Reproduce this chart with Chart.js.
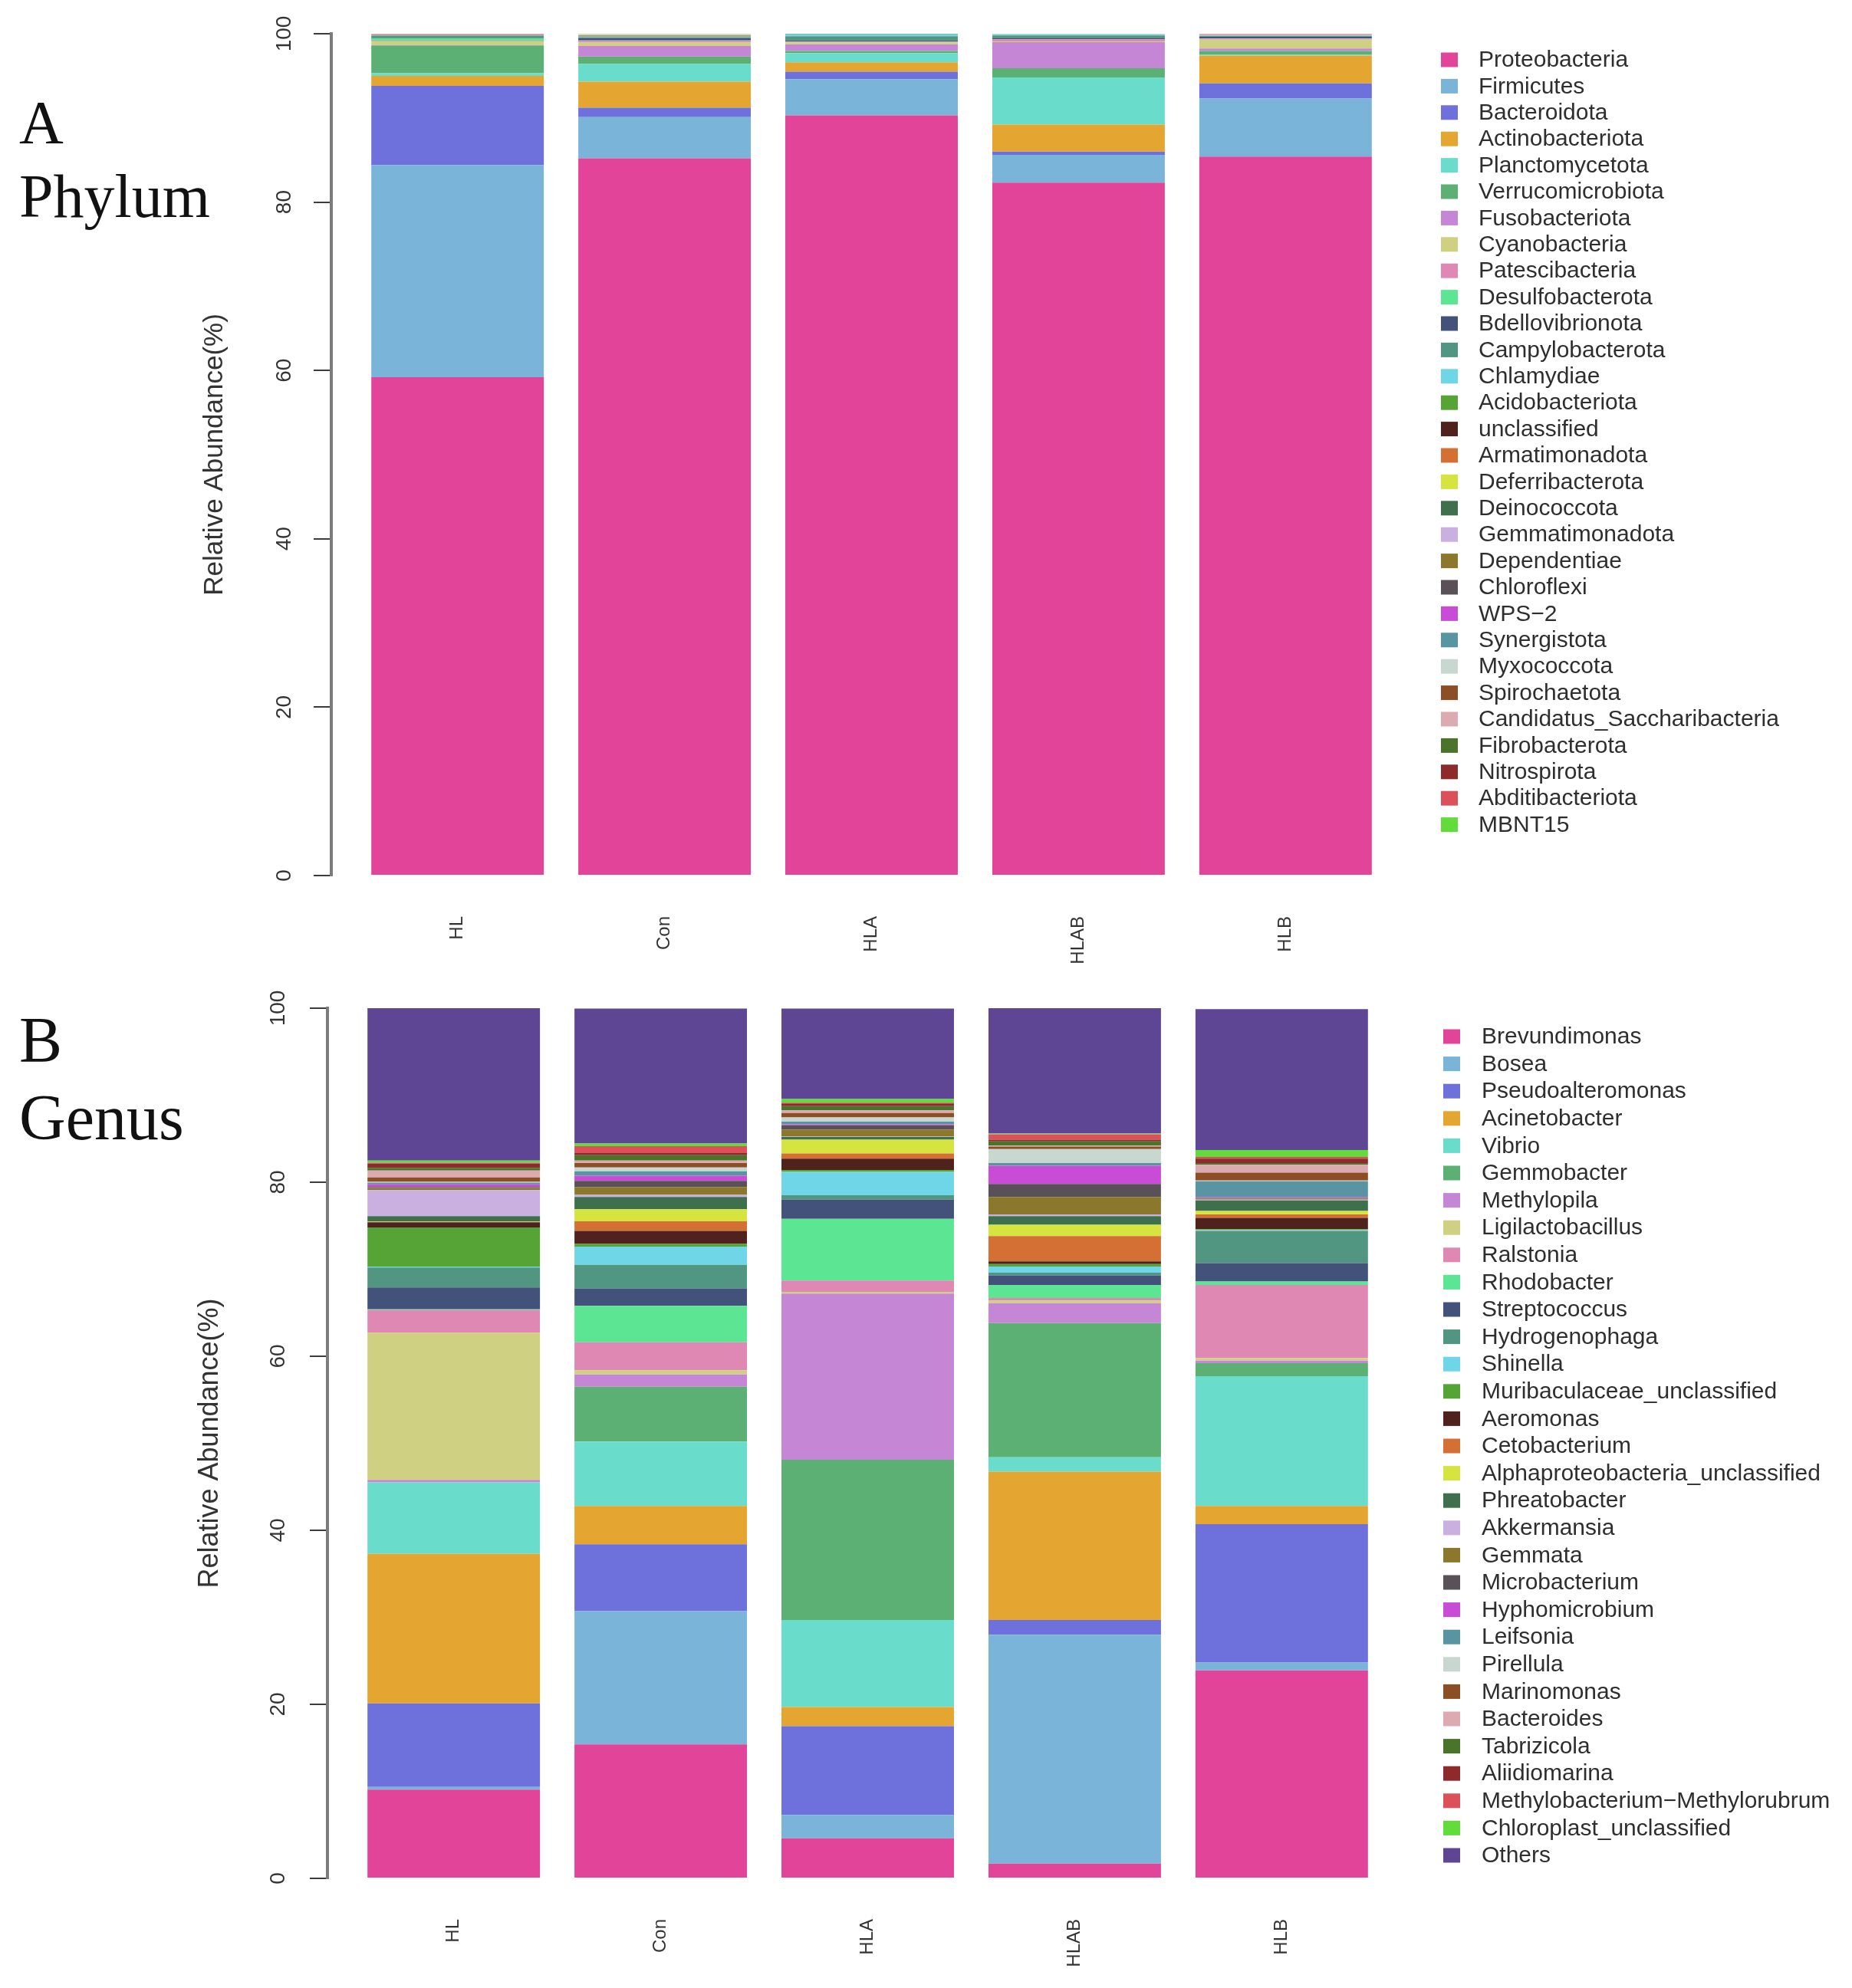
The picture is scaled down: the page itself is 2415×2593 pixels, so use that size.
<!DOCTYPE html>
<html>
<head>
<meta charset="utf-8">
<title>Relative abundance - Phylum / Genus</title>
<script src="https://cdn.jsdelivr.net/npm/chart.js"></script>
<style>
    html, body { margin: 0; padding: 0; background: #fff; }
    #page { position: relative; width: 2415px; height: 2593px; }
    #page canvas { position: absolute; left: 0; }
    #phylumChart { top: 0; }
    #genusChart { top: 1270px; }
</style>
</head>
<body>
<div id="page">
    <canvas id="phylumChart" width="2415" height="1262"></canvas>
    <canvas id="genusChart" width="2415" height="1323"></canvas>
</div>
<script>
"use strict";

// sample groups (bar order) and y tick labels
var groups = ['HL', 'Con', 'HLA', 'HLAB', 'HLB'];
var yTicks = [0, 20, 40, 60, 80, 100];

// shared palette, same order as the legends
var palette = ['#e2449a', '#7ab4d8', '#6e70dc', '#e4a630', '#6adccc', '#5cb074', '#c686d6', '#d0d082',
    '#e088b4', '#5ce694', '#42527a', '#509680', '#6ed6e6', '#56a436', '#50221e', '#d47034',
    '#d6e440', '#3e704e', '#cab0e0', '#8c782c', '#5a5058', '#c84cd6', '#5894a2', '#c8d8d0',
    '#8c4e24', '#dcaab0', '#4a742a', '#8e2a2c', '#dc505a', '#62dc3a', '#5e4694'];

// ---- A: phylum ----
var phylumNames = ['Proteobacteria', 'Firmicutes', 'Bacteroidota', 'Actinobacteriota', 'Planctomycetota',
    'Verrucomicrobiota', 'Fusobacteriota', 'Cyanobacteria', 'Patescibacteria', 'Desulfobacterota',
    'Bdellovibrionota', 'Campylobacterota', 'Chlamydiae', 'Acidobacteriota', 'unclassified',
    'Armatimonadota', 'Deferribacterota', 'Deinococcota', 'Gemmatimonadota', 'Dependentiae',
    'Chloroflexi', 'WPS\u22122', 'Synergistota', 'Myxococcota', 'Spirochaetota',
    'Candidatus_Saccharibacteria', 'Fibrobacterota', 'Nitrospirota', 'Abditibacteriota', 'MBNT15'];

var phylumHL   = [59.2, 25.2, 9.4, 1.2, 0.3, 3.3, 0.05, 0.45, 0.05, 0.3, 0.02, 0.3, 0.02, 0.02, 0.02,
    0, 0, 0, 0, 0, 0, 0, 0, 0, 0, 0.2, 0, 0, 0, 0];
var phylumCon  = [85.2, 4.9, 1.1, 3.1, 2.1, 0.9, 1.25, 0.4, 0.2, 0.05, 0.3, 0.1, 0.05, 0.05, 0.05,
    0.05, 0.05, 0, 0, 0, 0, 0, 0, 0.15, 0, 0, 0, 0, 0, 0];
var phylumHLA  = [90.3, 4.3, 0.9, 1.1, 1.1, 0.25, 0.8, 0.25, 0.05, 0.05, 0.1, 0.5, 0.25, 0, 0.05,
    0, 0, 0, 0, 0, 0, 0, 0, 0, 0, 0, 0, 0, 0, 0];
var phylumHLAB = [82.3, 3.3, 0.4, 3.2, 5.6, 1.1, 3.1, 0.1, 0.25, 0, 0.1, 0.35, 0.1, 0, 0,
    0, 0, 0, 0, 0, 0, 0, 0, 0.1, 0, 0, 0, 0, 0, 0];
var phylumHLB  = [85.4, 6.9, 1.8, 3.3, 0.1, 0.45, 0.3, 1.05, 0.1, 0.05, 0.2, 0.1, 0.05, 0, 0,
    0, 0, 0, 0, 0, 0, 0, 0, 0, 0, 0.2, 0, 0, 0, 0];

// ---- B: genus ----
var genusNames = ['Brevundimonas', 'Bosea', 'Pseudoalteromonas', 'Acinetobacter', 'Vibrio', 'Gemmobacter',
    'Methylopila', 'Ligilactobacillus', 'Ralstonia', 'Rhodobacter', 'Streptococcus', 'Hydrogenophaga',
    'Shinella', 'Muribaculaceae_unclassified', 'Aeromonas', 'Cetobacterium',
    'Alphaproteobacteria_unclassified', 'Phreatobacter', 'Akkermansia', 'Gemmata', 'Microbacterium',
    'Hyphomicrobium', 'Leifsonia', 'Pirellula', 'Marinomonas', 'Bacteroides', 'Tabrizicola',
    'Aliidiomarina', 'Methylobacterium\u2212Methylorubrum', 'Chloroplast_unclassified', 'Others'];

var genusHL   = [10.2, 0.3, 9.6, 17.2, 8.2, 0, 0.3, 16.9, 2.6, 0.1, 2.5, 2.3, 0.1, 4.5, 0.6, 0.05,
    0.05, 0.6, 3.0, 0.25, 0.1, 0.3, 0.2, 0.1, 0.5, 0.8, 0.3, 0.5, 0.1, 0.25, 17.5];
var genusCon  = [15.4, 15.3, 7.7, 4.4, 7.4, 6.3, 1.4, 0.5, 3.2, 4.2, 2.0, 2.7, 2.1, 0.3, 1.5, 1.1,
    1.4, 1.4, 0.25, 0.9, 0.7, 0.6, 0.5, 0.45, 0.5, 0.3, 0.6, 0.25, 0.8, 0.3, 15.5];
var genusHLA  = [4.6, 2.7, 10.2, 2.2, 10.0, 18.4, 19.1, 0.2, 1.3, 7.1, 2.2, 0.5, 2.7, 0.2, 1.3, 0.6,
    1.6, 0.3, 0.05, 0.8, 0.5, 0.1, 0.3, 0.5, 0.5, 0.3, 0.5, 0.3, 0.1, 0.4, 10.4];
var genusHLAB = [1.7, 26.3, 1.7, 17.05, 1.65, 15.4, 2.3, 0.3, 0.3, 1.5, 1.1, 0.3, 0.7, 0.3, 0.3, 2.9,
    1.3, 1.0, 0.2, 2.0, 1.5, 2.1, 0.3, 1.6, 0.3, 0.1, 0.5, 0.2, 0.6, 0.1, 14.4];
var genusHLB  = [23.9, 0.9, 15.9, 2.1, 14.9, 1.5, 0.3, 0.3, 8.4, 0.4, 2.1, 3.7, 0.1, 0.1, 1.3, 0.4,
    0.4, 1.2, 0.1, 0.1, 0.1, 0.1, 1.8, 0.1, 0.9, 0.9, 0.2, 0.5, 0.2, 0.8, 16.2];

// R barplot layout: width 1, space 0.2 -> bars at 0.7, 1.9, ...
var barPos = groups.map(function (g, i) { return 0.7 + 1.2 * i; });

function makeDatasets(names, columns) {
    return names.map(function (name, k) {
        return {
            label: name,
            data: columns.map(function (col) { return col[k]; }),
            backgroundColor: palette[k],
            borderWidth: 0
        };
    });
}

// panel letter, panel name and the legend list on the right
var panelText = {
    id: 'panelText',
    afterDraw: function (chart, args, opts) {
        var ctx = chart.ctx;
        ctx.save();
        ctx.fillStyle = '#111';
        ctx.textAlign = 'left';
        ctx.textBaseline = 'alphabetic';
        ctx.font = opts.titleSize + 'px "Liberation Serif", "Times New Roman", serif';
        ctx.fillText(opts.letter, 25, opts.letterY);
        ctx.fillText(opts.name, 25, opts.nameY);

        ctx.font = '30px "Liberation Sans", Arial, sans-serif';
        ctx.textBaseline = 'middle';
        chart.data.datasets.forEach(function (ds, i) {
            var cy = opts.legendY + i * opts.legendStep;
            ctx.fillStyle = ds.backgroundColor;
            ctx.fillRect(opts.boxX, cy - 9.5, 22, 19);
            ctx.fillStyle = '#2e2e2e';
            ctx.fillText(ds.label, opts.textX, cy + 1);
        });
        ctx.restore();
    }
};

function makeOptions(cfg) {
    return {
        responsive: false,
        devicePixelRatio: 1,
        animation: false,
        layout: { padding: cfg.padding },
        datasets: { bar: { categoryPercentage: 1, barPercentage: 1 / 1.2 } },
        plugins: {
            legend: { display: false },
            tooltip: { enabled: false },
            panelText: cfg.panel
        },
        scales: {
            x: {
                type: 'linear',
                min: -0.032,
                max: 6.232,
                offset: false,
                stacked: true,
                afterBuildTicks: function (scale) {
                    scale.ticks = barPos.map(function (v) { return { value: v }; });
                },
                afterFit: function (scale) { scale.height = 120; },
                grid: { display: false, drawTicks: false, offset: false },
                border: { display: false },
                ticks: {
                    autoSkip: false,
                    minRotation: 90,
                    maxRotation: 90,
                    padding: 53,
                    color: '#333',
                    font: { family: '"Liberation Sans", Arial, sans-serif', size: 24 },
                    callback: function (v, i) { return groups[i]; }
                }
            },
            y: {
                stacked: true,
                min: 0,
                max: 100,
                afterBuildTicks: function (scale) {
                    scale.ticks = yTicks.map(function (v) { return { value: v }; });
                },
                afterFit: function (scale) { scale.width = 180; },
                grid: { drawOnChartArea: false, tickLength: 23, color: '#3c3c3c', lineWidth: 2 },
                border: { color: '#7c7c7c', width: 4 },
                title: {
                    display: true,
                    text: 'Relative Abundance(%)',
                    color: '#333',
                    padding: { top: cfg.titlePad, bottom: 0 },
                    font: { family: '"Liberation Sans", Arial, sans-serif', size: cfg.titleSize }
                },
                ticks: {
                    minRotation: 90,
                    maxRotation: 90,
                    crossAlign: 'center',
                    padding: cfg.tickPad,
                    color: '#333',
                    font: { family: '"Liberation Sans", Arial, sans-serif', size: 28 }
                }
            }
        }
    };
}

var phylumChart = new Chart(document.getElementById('phylumChart'), {
    type: 'bar',
    data: {
        labels: barPos,
        datasets: makeDatasets(phylumNames, [phylumHL, phylumCon, phylumHLA, phylumHLAB, phylumHLB])
    },
    options: makeOptions({
        padding: { left: 252, top: 44, right: 574, bottom: 0 },
        titlePad: 7,
        titleSize: 35,
        tickPad: 14,
        panel: { letter: 'A', name: 'Phylum', titleSize: 80, letterY: 187, nameY: 283,
            legendY: 78, legendStep: 34.4, boxX: 1879, textX: 1928 }
    }),
    plugins: [panelText]
});

var genusChart = new Chart(document.getElementById('genusChart'), {
    type: 'bar',
    data: {
        labels: barPos,
        datasets: makeDatasets(genusNames, [genusHL, genusCon, genusHLA, genusHLAB, genusHLB])
    },
    options: makeOptions({
        padding: { left: 247, top: 45, right: 579, bottom: 23 },
        titlePad: 5,
        titleSize: 36,
        tickPad: 17,
        panel: { letter: 'B', name: 'Genus', titleSize: 84, letterY: 115, nameY: 216,
            legendY: 82, legendStep: 35.6, boxX: 1882, textX: 1932 }
    }),
    plugins: [panelText]
});
</script>
</body>
</html>
